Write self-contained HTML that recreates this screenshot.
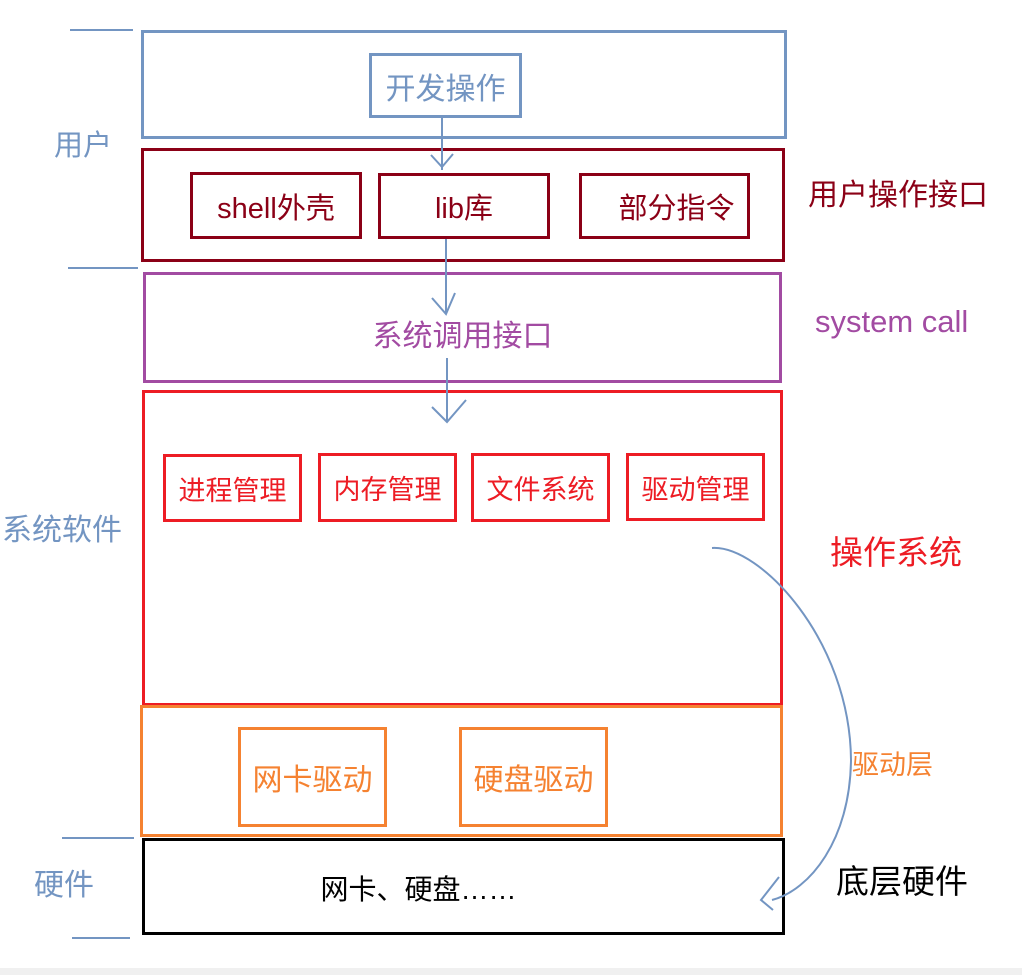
<!DOCTYPE html>
<html><head><meta charset="utf-8"><style>
body{margin:0;width:1022px;height:975px;background:#fff;position:relative;overflow:hidden;font-family:"Liberation Sans","Noto Sans CJK SC",sans-serif}
.b{position:absolute;box-sizing:border-box;display:flex;align-items:center;justify-content:center;white-space:nowrap}
.t{position:absolute;white-space:nowrap;line-height:1}
</style></head><body>
<div class="b" style="left:141px;top:30px;width:646px;height:109px;border:3px solid #7395c2"></div>
<div class="b" style="left:369px;top:53px;width:153px;height:65px;border:3px solid #7395c2;color:#7395c2;font-size:30px">开发操作</div>
<div class="b" style="left:141px;top:148px;width:644px;height:114px;border:3px solid #8b0016"></div>
<div class="b" style="left:190px;top:172px;width:172px;height:67px;border:3px solid #8b0016;color:#8b0016;font-size:29px">shell外壳</div>
<div class="b" style="left:378px;top:173px;width:172px;height:66px;border:3px solid #8b0016;color:#8b0016;font-size:29px">lib库</div>
<div class="b" style="left:579px;top:173px;width:171px;height:66px;border:3px solid #8b0016;color:#8b0016;font-size:29px;padding-left:24px">部分指令</div>
<div class="b" style="left:143px;top:272px;width:639px;height:111px;border:3px solid #a24ba2;color:#a24ba2;font-size:30px;padding-top:10px">系统调用接口</div>
<div class="b" style="left:142px;top:390px;width:641px;height:316px;border:3px solid #ed1c24"></div>
<div class="b" style="left:163px;top:454px;width:139px;height:68px;border:3px solid #ed1c24;color:#ed1c24;font-size:27px">进程管理</div>
<div class="b" style="left:318px;top:453px;width:139px;height:69px;border:3px solid #ed1c24;color:#ed1c24;font-size:27px">内存管理</div>
<div class="b" style="left:471px;top:453px;width:139px;height:69px;border:3px solid #ed1c24;color:#ed1c24;font-size:27px">文件系统</div>
<div class="b" style="left:626px;top:453px;width:139px;height:68px;border:3px solid #ed1c24;color:#ed1c24;font-size:27px">驱动管理</div>
<div class="b" style="left:140px;top:705px;width:643px;height:132px;border:3px solid #f58231"></div>
<div class="b" style="left:238px;top:727px;width:149px;height:100px;border:3px solid #f58231;color:#f58231;font-size:30px">网卡驱动</div>
<div class="b" style="left:459px;top:727px;width:149px;height:100px;border:3px solid #f58231;color:#f58231;font-size:30px">硬盘驱动</div>
<div class="b" style="left:142px;top:838px;width:643px;height:97px;border:3px solid #000;color:#000;font-size:28px;padding-right:90px;padding-top:2px">网卡、硬盘……</div>
<div class="t" style="left:54px;top:132px;color:#7395c2;font-size:29px">用户</div>
<div class="t" style="left:2px;top:516px;color:#7395c2;font-size:30px">系统软件</div>
<div class="t" style="left:34px;top:871px;color:#7395c2;font-size:30px">硬件</div>
<div class="t" style="left:808px;top:181px;color:#8b0016;font-size:30px">用户操作接口</div>
<div class="t" style="left:815px;top:306px;color:#a24ba2;font-size:31px">system call</div>
<div class="t" style="left:830px;top:536px;color:#ed1c24;font-size:33px">操作系统</div>
<div class="t" style="left:852px;top:752px;color:#f58231;font-size:27px">驱动层</div>
<div class="t" style="left:836px;top:865px;color:#000;font-size:33px">底层硬件</div>
<div style="position:absolute;left:0;top:968px;width:1022px;height:7px;background:#f0f0f0"></div>
<svg style="position:absolute;left:0;top:0" width="1022" height="975" fill="none" stroke="#7395c2" stroke-width="2">
<line x1="70" y1="30" x2="133" y2="30"/><line x1="68" y1="268" x2="138" y2="268"/>
<line x1="62" y1="838" x2="134" y2="838"/><line x1="72" y1="938" x2="130" y2="938"/>
<line x1="442" y1="118" x2="442" y2="170"/><polyline points="431,155 442,167 453,154"/>
<line x1="446" y1="239" x2="446" y2="313"/><polyline points="432,298 446,314 455,293"/>
<line x1="447" y1="358" x2="447" y2="422"/><polyline points="432,407 447,422 466,400"/>
<path d="M712,548 C760,545 850,640 851,760 C850,840 810,890 772,900"/>
<polyline points="779,877 761,900 773,910"/>
</svg>
</body></html>
